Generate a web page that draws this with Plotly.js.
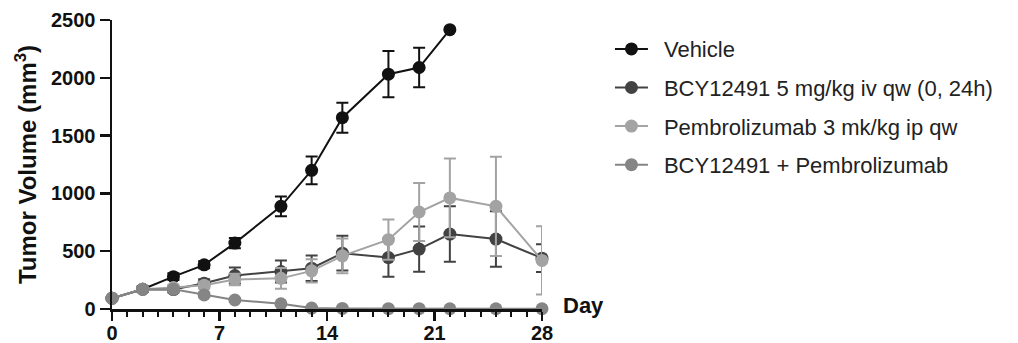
<!DOCTYPE html>
<html>
<head>
<meta charset="utf-8">
<script src="https://cdn.plot.ly/plotly-3.0.1.min.js"></script>
<style>html,body{margin:0;padding:0;background:#fff;}#chart{width:1018px;height:343px;}</style>
</head>
<body>
<div id="chart"></div>
<script>
const days = [0, 2, 4, 6, 8, 11, 13, 15, 18, 20, 22, 25, 28];
const vehicleDays = [0, 2, 4, 6, 8, 11, 13, 15, 18, 20, 22];
const vehicle = [93, 171, 280, 382, 570, 888, 1200, 1655, 2031, 2089, 2416];
const vehicleErr = [20, 25, 30, 30, 45, 85, 120, 130, 200, 170, 0];
const bcy = [93, 171, 168, 223, 290, 324, 353, 483, 445, 518, 648, 605, 440];
const bcyErr = [15, 20, 25, 35, 70, 95, 110, 150, 165, 195, 240, 240, 120];
const pembro = [93, 171, 185, 205, 255, 265, 330, 460, 600, 839, 961, 888, 420];
const pembroErr = [15, 20, 25, 30, 50, 90, 100, 150, 175, 250, 340, 430, 295];
const combo = [93, 171, 170, 122, 78, 45, 8, 5, 3, 3, 2, 2, 2];
const comboErr = [15, 20, 20, 20, 15, 10, 5, 3, 2, 2, 2, 2, 2];
const names = ["Vehicle", "BCY12491 5 mg/kg iv qw (0, 24h)", "Pembrolizumab 3 mk/kg ip qw", "BCY12491 + Pembrolizumab"];
const xTicks = [0, 7, 14, 21, 28];
const yTicks = [0, 500, 1000, 1500, 2000, 2500];

const colors = ["#111111", "#424242", "#a3a3a3", "#858585"];
function tr(x, y, err, i) {
  return {
    x: x, y: y, name: "\u2002" + names[i], type: "scatter", mode: "lines+markers",
    legendgroup: "g" + i,
    cliponaxis: false,
    line: {color: colors[i], width: 2},
    marker: {color: colors[i], size: 13, symbol: "circle"},
    error_y: {type: "data", array: err, visible: true, color: colors[i], thickness: 2, width: 6}
  };
}
const data = [
  tr(vehicleDays, vehicle, vehicleErr, 0),
  tr(days, bcy, bcyErr, 1),
  tr(days, pembro, pembroErr, 2),
  tr(days, combo, comboErr, 3)
];
const layout = {
  width: 1018, height: 343,
  margin: {l: 112, r: 476, t: 20, b: 34},
  paper_bgcolor: "#fff", plot_bgcolor: "#fff",
  font: {family: "Liberation Sans, Arial, sans-serif", color: "#111"},
  showlegend: true,
  legend: {
    x: 1.158, y: 0.972, xanchor: "left", yanchor: "top",
    font: {size: 22, color: "#222"},
    tracegroupgap: 7, itemwidth: 33,
    bgcolor: "rgba(0,0,0,0)"
  },
  xaxis: {
    range: [0, 28], tickvals: xTicks, ticktext: xTicks.map(String),
    showgrid: false, zeroline: false,
    showline: true, linecolor: "#111", linewidth: 2.5,
    ticks: "outside", ticklen: 9, tickwidth: 2.5, tickcolor: "#111",
    ticklabelstandoff: -5,
    minor: {dtick: 1, tick0: 0, ticks: "outside", ticklen: 5, tickwidth: 2, tickcolor: "#111", showgrid: false},
    tickfont: {size: 20, family: "Liberation Sans, Arial, sans-serif", weight: "bold", color: "#111"}
  },
  yaxis: {
    range: [0, 2500], tickvals: yTicks, ticktext: yTicks.map(String),
    showgrid: false, zeroline: false,
    showline: true, linecolor: "#111", linewidth: 2.5,
    ticks: "outside", ticklen: 10, tickwidth: 2.5, tickcolor: "#111",
    tickfont: {size: 20, family: "Liberation Sans, Arial, sans-serif", weight: "bold", color: "#111"},
    title: {text: "<b>Tumor Volume (mm<sup>3</sup>)</b>", font: {size: 24, color: "#111"}, standoff: 8}
  },
  annotations: [{
    text: "<b>Day</b>", xref: "paper", yref: "y", x: 1.044, y: 0, xanchor: "left", yanchor: "middle",
    yshift: 4, showarrow: false, font: {size: 22, color: "#111"}
  }]
};
Plotly.newPlot("chart", data, layout, {displayModeBar: false, staticPlot: true});
</script>
</body>
</html>
